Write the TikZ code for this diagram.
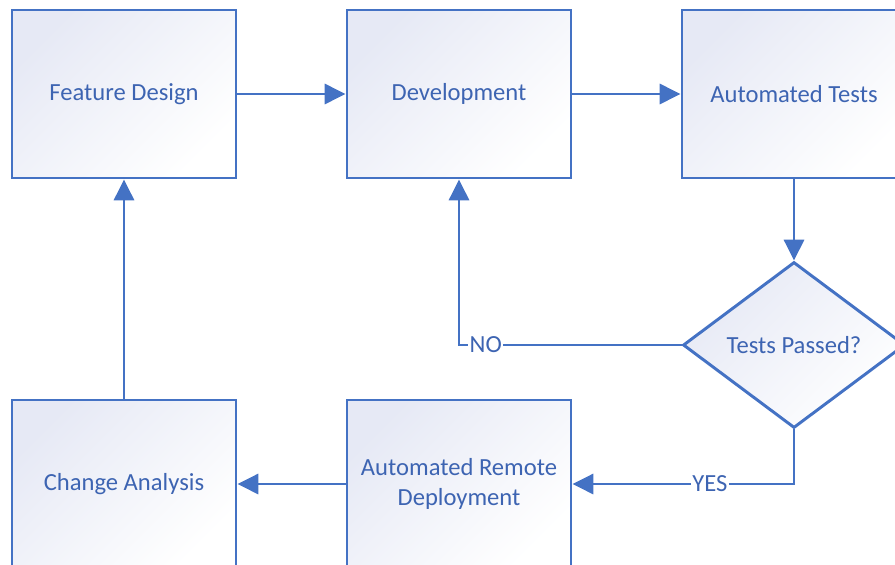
\documentclass[tikz,border=0pt]{standalone}
\usepackage{fontspec}
\setmainfont{Carlito}
\usepackage{xcolor}
\usepackage{tikz}
\usetikzlibrary{arrows.meta,shapes.geometric}
\definecolor{FLBlue}{HTML}{4472C4}
\definecolor{FLText}{HTML}{3D64B2}
\definecolor{FLTint}{HTML}{E6E9F5}

\begin{document}
\begin{tikzpicture}[x=1cm,y=1cm,
  flowbox/.style={draw=FLBlue,line width=2.1pt,top color=FLTint,bottom color=white,shading angle=45,
    minimum width=5.6cm,minimum height=4.2cm,align=center,text=FLText,font=\fontsize{17.5}{21}\selectfont},
  flowtest/.style={flowbox,diamond,aspect=1.34,minimum width=5.55cm,minimum height=4.15cm,inner sep=0pt},
  flowline/.style={draw=FLBlue,line width=2.1pt},
  flowarrow/.style={flowline,-{Triangle[length=0.52cm,width=0.5cm]}},
  flowlabel/.style={fill=white,inner sep=1pt,text=FLText,font=\fontsize{17.5}{21}\selectfont}]
\path[use as bounding box] (0,0) rectangle (22.375,14.10);
\node[flowbox] (design) at (3.10,11.75) {Feature Design};
\node[flowbox] (dev) at (11.475,11.75) {Development};
\node[flowbox] (tests) at (19.85,11.75) {Automated Tests};
\node[flowtest] (passed) at (19.85,5.475) {Tests Passed?};
\node[flowbox] (deploy) at (11.475,2.00) {Automated Remote\\Deployment};
\node[flowbox] (analysis) at (3.10,2.00) {Change Analysis};
\draw[flowarrow] (design) -- (dev);
\draw[flowarrow] (dev) -- (tests);
\draw[flowarrow] (tests) -- (passed);
\draw[flowarrow] (passed.west) -| node[flowlabel,pos=0.44] {NO} (dev.south);
\draw[flowarrow] (passed.south) |- node[flowlabel,pos=0.69] {YES} (deploy.east);
\draw[flowarrow] (deploy) -- (analysis);
\draw[flowarrow] (analysis) -- (design);
\end{tikzpicture}
\end{document}
